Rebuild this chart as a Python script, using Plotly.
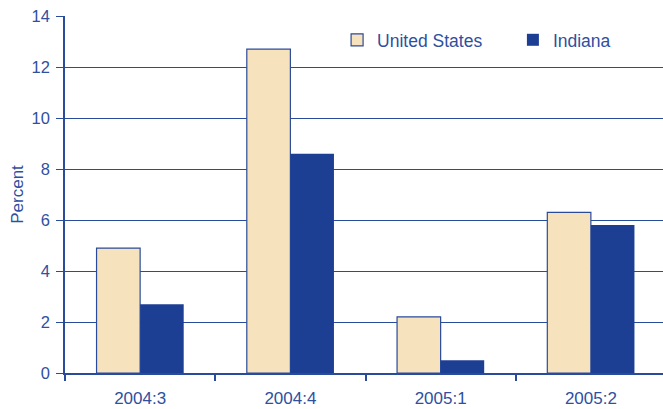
import plotly.graph_objects as go

categories = ["2004:3", "2004:4", "2005:1", "2005:2"]
us_values = [4.9, 12.7, 2.2, 6.3]
indiana_values = [2.7, 8.6, 0.5, 5.8]
y_ticks = [0, 2, 4, 6, 8, 10, 12, 14]

BLUE = "#2a4b9b"
TEXT = "#2f4f9f"
US_FILL = "#f7e2be"
IN_FILL = "#1c3f94"
FONT = "Liberation Sans"

fig = go.Figure()
fig.add_trace(go.Bar(x=categories, y=us_values, name="United States", legend="legend",
                     marker=dict(color=US_FILL, line=dict(color=BLUE, width=1.2))))
fig.add_trace(go.Bar(x=categories, y=indiana_values, name="Indiana", legend="legend2",
                     marker=dict(color=IN_FILL, line=dict(color=IN_FILL, width=0))))

leg_common = dict(orientation="h", yanchor="middle", xanchor="left",
                  font=dict(family=FONT, size=17.5, color=TEXT),
                  bgcolor="rgba(0,0,0,0)")

fig.update_layout(
    width=663, height=409,
    margin=dict(l=65, r=0, t=16, b=36),
    paper_bgcolor="white", plot_bgcolor="white",
    barmode="group", bargap=0.42, bargroupgap=0,
    font=dict(family=FONT, color=TEXT, size=16),
    showlegend=True,
    legend=dict(x=0.455, y=0.933, **leg_common),
    legend2=dict(x=0.749, y=0.933, **leg_common),
    xaxis=dict(range=[-0.5, 3.48], showgrid=False, showline=True, linecolor=BLUE, linewidth=1.5,
               ticks="outside", tickson="boundaries", ticklen=6, tickcolor=BLUE, tickwidth=1.5,
               ticklabelstandoff=9,
               tickfont=dict(family=FONT, size=17, color=TEXT), zeroline=False),
    yaxis=dict(range=[0, 14], tickvals=y_ticks, showgrid=True, gridcolor=BLUE, gridwidth=1.2,
               showline=True, linecolor=BLUE, linewidth=1.5, zeroline=False,
               ticks="outside", ticklen=7, tickcolor=BLUE, tickwidth=1.2,
               ticklabelstandoff=3,
               tickfont=dict(family=FONT, size=16.5, color=TEXT),
               title=dict(text="Percent", font=dict(family=FONT, size=17, color=TEXT), standoff=4)),
)

fig.write_html("out.html", config={"displayModeBar": False},
               post_script="document.body.style.margin='0';")
